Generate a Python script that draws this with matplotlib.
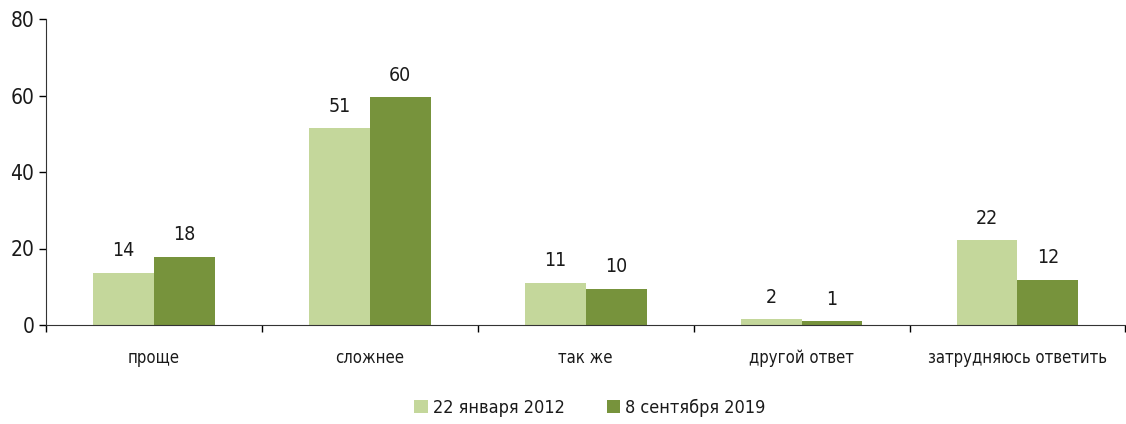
import numpy as np
import matplotlib
matplotlib.use("Agg")
from matplotlib import pyplot as plt

plt.rcParams['font.family'] = ['DejaVu Sans']
plt.rcParams['font.stretch'] = 'condensed'
plt.rcParams['text.color'] = '#1a1a1a'

categories = ['проще', 'сложнее', 'так же', 'другой ответ', 'затрудняюсь ответить']
series_names = ['22 января 2012', '8 сентября 2019']
jan_2012 = [13.6, 51.4, 11.0, 1.5, 22.2]
sep_2019 = [17.8, 59.6, 9.5, 1.0, 11.8]
colors = ['#C4D79B', '#77933C']

fig = plt.figure(figsize=(11.26, 4.24), dpi=100)
ax = fig.add_axes([46 / 1126, 99 / 424, 1 - 46 / 1126 - 0.0005, 306 / 424])

x = np.arange(len(categories))
w = 0.282

for i, (vals, name) in enumerate(zip([jan_2012, sep_2019], series_names)):
    pos = x + (i - 0.5) * w
    ax.bar(pos, vals, width=w, color=colors[i], label=name, linewidth=0)
    for p, v in zip(pos, vals):
        ax.annotate(f"{v:.0f}", (p, v), xytext=(0, 9), textcoords='offset points',
                    ha='center', va='bottom', fontsize=14)

ax.set_xlim(-0.5, len(categories) - 0.5)
ax.set_ylim(0, 80)
ax.set_yticks([0, 20, 40, 60, 80])
ax.tick_params(axis='y', labelsize=15, length=5, direction='out', width=1,
               labelcolor='#1a1a1a')

# category boundary ticks, labels centered in between
ax.set_xticks(np.arange(-0.5, len(categories)), minor=False)
ax.set_xticklabels([])
ax.set_xticks(x, minor=True)
ax.set_xticklabels(categories, minor=True, fontsize=12)
ax.tick_params(axis='x', which='major', length=5, direction='out', width=1)
ax.tick_params(axis='x', which='minor', length=0, pad=17, labelcolor='#1a1a1a')

for s in ['top', 'right']:
    ax.spines[s].set_visible(False)
ax.spines['left'].set_color('#333333')
ax.spines['bottom'].set_color('#333333')

leg = fig.legend(loc='center', bbox_to_anchor=(0.524, 0.038), ncol=2, frameon=False,
                 fontsize=13, handlelength=0.75, handleheight=0.75, handletextpad=0.3,
                 columnspacing=2.3)

fig.savefig('out.png', dpi=100)
